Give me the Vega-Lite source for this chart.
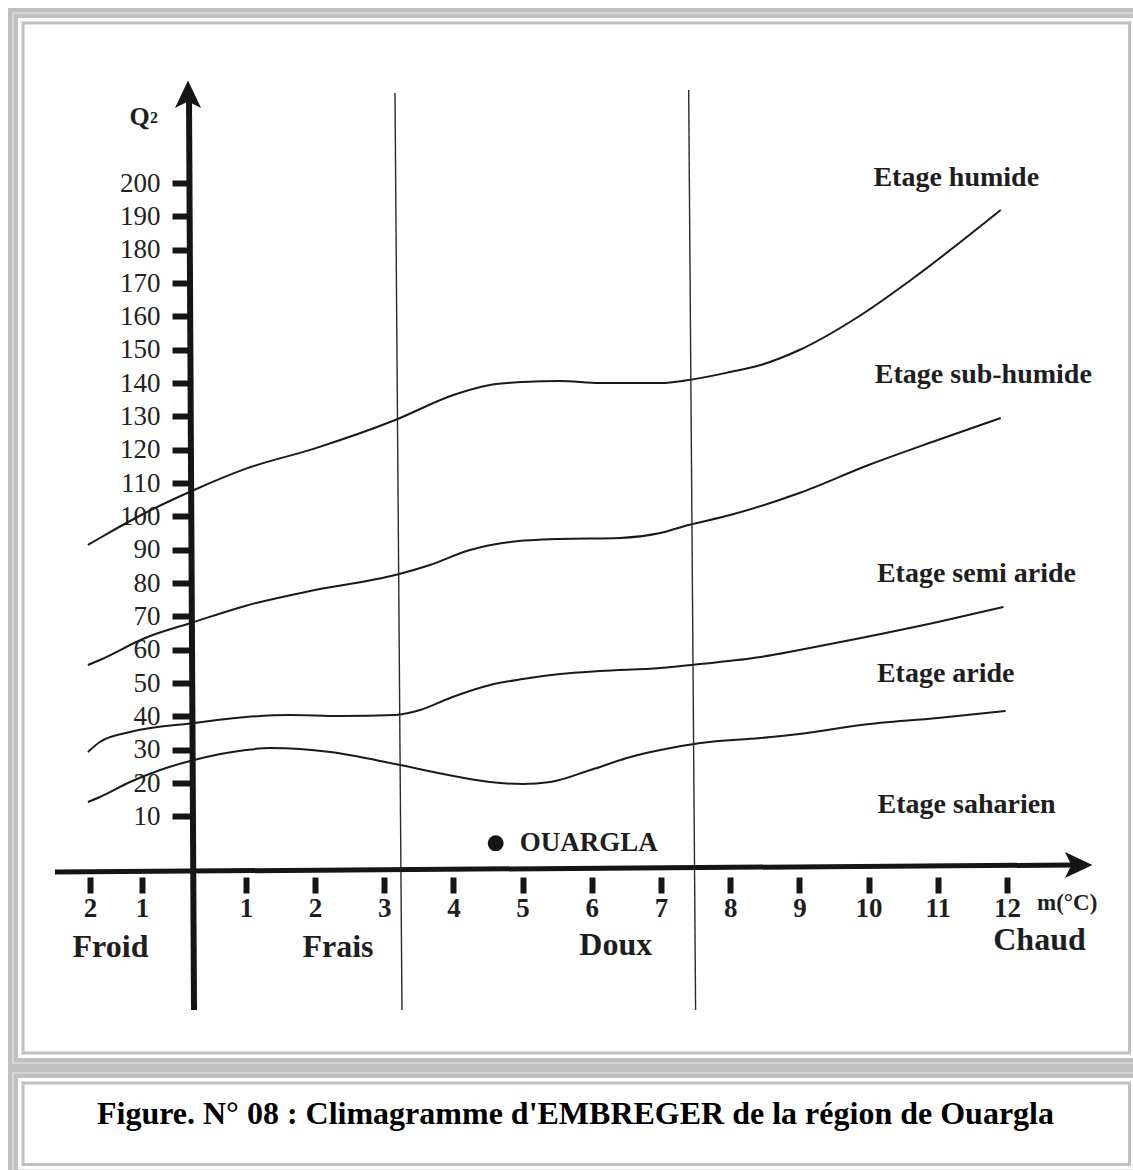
{
  "$schema": "https://vega.github.io/schema/vega-lite/v6.json",
  "width": 1133,
  "height": 1170,
  "autosize": {"type": "none"},
  "padding": 0,
  "background": "#ffffff",
  "config": {"view": {"stroke": null}, "font": "Liberation Serif"},
  "datasets": {
    "one": [{"k": 1}],
    "curves": [
      {"limite": "humide / sub-humide", "m": -2.04, "q": 91.4},
      {"limite": "humide / sub-humide", "m": -1.81, "q": 93.5},
      {"limite": "humide / sub-humide", "m": -0.94, "q": 101.0},
      {"limite": "humide / sub-humide", "m": 0.0, "q": 107.9},
      {"limite": "humide / sub-humide", "m": 1.0, "q": 114.3},
      {"limite": "humide / sub-humide", "m": 2.0, "q": 120.4},
      {"limite": "humide / sub-humide", "m": 3.16, "q": 128.9},
      {"limite": "humide / sub-humide", "m": 4.0, "q": 136.4},
      {"limite": "humide / sub-humide", "m": 4.53, "q": 139.4},
      {"limite": "humide / sub-humide", "m": 5.0, "q": 140.3},
      {"limite": "humide / sub-humide", "m": 5.54, "q": 140.6},
      {"limite": "humide / sub-humide", "m": 6.12, "q": 140.0},
      {"limite": "humide / sub-humide", "m": 6.99, "q": 140.0},
      {"limite": "humide / sub-humide", "m": 7.4, "q": 140.9},
      {"limite": "humide / sub-humide", "m": 8.0, "q": 143.3},
      {"limite": "humide / sub-humide", "m": 8.44, "q": 145.4},
      {"limite": "humide / sub-humide", "m": 9.0, "q": 149.9},
      {"limite": "humide / sub-humide", "m": 9.89, "q": 160.4},
      {"limite": "humide / sub-humide", "m": 10.61, "q": 170.9},
      {"limite": "humide / sub-humide", "m": 11.91, "q": 191.9},
      {"limite": "sub-humide / semi aride", "m": -2.04, "q": 55.4},
      {"limite": "sub-humide / semi aride", "m": -1.81, "q": 56.9},
      {"limite": "sub-humide / semi aride", "m": -0.94, "q": 63.5},
      {"limite": "sub-humide / semi aride", "m": 0.0, "q": 68.3},
      {"limite": "sub-humide / semi aride", "m": 1.0, "q": 73.2},
      {"limite": "sub-humide / semi aride", "m": 2.0, "q": 77.9},
      {"limite": "sub-humide / semi aride", "m": 3.16, "q": 82.4},
      {"limite": "sub-humide / semi aride", "m": 3.66, "q": 85.4},
      {"limite": "sub-humide / semi aride", "m": 4.24, "q": 89.9},
      {"limite": "sub-humide / semi aride", "m": 4.82, "q": 92.3},
      {"limite": "sub-humide / semi aride", "m": 5.54, "q": 93.2},
      {"limite": "sub-humide / semi aride", "m": 6.41, "q": 93.5},
      {"limite": "sub-humide / semi aride", "m": 6.99, "q": 95.0},
      {"limite": "sub-humide / semi aride", "m": 7.4, "q": 97.4},
      {"limite": "sub-humide / semi aride", "m": 8.0, "q": 100.4},
      {"limite": "sub-humide / semi aride", "m": 9.0, "q": 107.0},
      {"limite": "sub-humide / semi aride", "m": 10.0, "q": 115.4},
      {"limite": "sub-humide / semi aride", "m": 11.0, "q": 122.9},
      {"limite": "sub-humide / semi aride", "m": 11.91, "q": 129.5},
      {"limite": "semi aride / aride", "m": -2.04, "q": 29.3},
      {"limite": "semi aride / aride", "m": -1.81, "q": 32.3},
      {"limite": "semi aride / aride", "m": -1.23, "q": 35.3},
      {"limite": "semi aride / aride", "m": 0.0, "q": 38.0},
      {"limite": "semi aride / aride", "m": 1.0, "q": 39.8},
      {"limite": "semi aride / aride", "m": 1.64, "q": 40.4},
      {"limite": "semi aride / aride", "m": 2.36, "q": 40.1},
      {"limite": "semi aride / aride", "m": 3.16, "q": 40.4},
      {"limite": "semi aride / aride", "m": 3.52, "q": 41.9},
      {"limite": "semi aride / aride", "m": 3.95, "q": 45.5},
      {"limite": "semi aride / aride", "m": 4.53, "q": 49.4},
      {"limite": "semi aride / aride", "m": 5.0, "q": 51.2},
      {"limite": "semi aride / aride", "m": 5.54, "q": 52.7},
      {"limite": "semi aride / aride", "m": 6.12, "q": 53.6},
      {"limite": "semi aride / aride", "m": 6.99, "q": 54.5},
      {"limite": "semi aride / aride", "m": 7.57, "q": 55.7},
      {"limite": "semi aride / aride", "m": 8.44, "q": 57.8},
      {"limite": "semi aride / aride", "m": 9.0, "q": 59.9},
      {"limite": "semi aride / aride", "m": 9.89, "q": 63.5},
      {"limite": "semi aride / aride", "m": 11.0, "q": 68.3},
      {"limite": "semi aride / aride", "m": 11.95, "q": 72.8},
      {"limite": "aride / saharien", "m": -2.04, "q": 14.3},
      {"limite": "aride / saharien", "m": -1.81, "q": 15.8},
      {"limite": "aride / saharien", "m": -1.23, "q": 20.3},
      {"limite": "aride / saharien", "m": -0.65, "q": 23.9},
      {"limite": "aride / saharien", "m": 0.0, "q": 26.9},
      {"limite": "aride / saharien", "m": 1.0, "q": 29.9},
      {"limite": "aride / saharien", "m": 1.35, "q": 30.5},
      {"limite": "aride / saharien", "m": 1.78, "q": 30.2},
      {"limite": "aride / saharien", "m": 2.22, "q": 29.3},
      {"limite": "aride / saharien", "m": 3.16, "q": 25.7},
      {"limite": "aride / saharien", "m": 4.0, "q": 22.1},
      {"limite": "aride / saharien", "m": 4.53, "q": 20.3},
      {"limite": "aride / saharien", "m": 5.0, "q": 19.7},
      {"limite": "aride / saharien", "m": 5.4, "q": 20.3},
      {"limite": "aride / saharien", "m": 5.98, "q": 23.9},
      {"limite": "aride / saharien", "m": 6.56, "q": 27.8},
      {"limite": "aride / saharien", "m": 6.99, "q": 29.9},
      {"limite": "aride / saharien", "m": 7.57, "q": 32.0},
      {"limite": "aride / saharien", "m": 8.44, "q": 33.5},
      {"limite": "aride / saharien", "m": 9.0, "q": 34.7},
      {"limite": "aride / saharien", "m": 9.89, "q": 37.4},
      {"limite": "aride / saharien", "m": 11.0, "q": 39.5},
      {"limite": "aride / saharien", "m": 11.98, "q": 41.6}
    ],
    "dividers": [
      {"m_top": 3.156, "m_bottom": 3.257, "q_top": 227.0, "q_bottom": -48.1},
      {"m_top": 7.4, "m_bottom": 7.5, "q_top": 227.9, "q_bottom": -48.1}
    ],
    "etages": [
      {"etage": "Etage humide", "m": 10.07, "q": 199.1},
      {"etage": "Etage sub-humide", "m": 10.09, "q": 140.0},
      {"etage": "Etage semi aride", "m": 10.12, "q": 80.3},
      {"etage": "Etage aride", "m": 10.12, "q": 50.3},
      {"etage": "Etage saharien", "m": 10.13, "q": 11.0}
    ],
    "zones": [
      {"zone": "Froid", "m": -1.606, "q": -32.1},
      {"zone": "Frais", "m": 2.332, "q": -32.1},
      {"zone": "Doux", "m": 6.347, "q": -31.6},
      {"zone": "Chaud", "m": 12.47, "q": -30.1}
    ],
    "station": [{"station": "OUARGLA", "m": 4.611, "q": 1.9}],
    "caption": [{"caption": "Figure. N° 08 : Climagramme d'EMBREGER de la région de Ouargla"}]
  },
  "layer": [
    {
      "data": {"name": "curves"},
      "mark": {"type": "line", "interpolate": "monotone", "color": "#1a1a1a", "strokeWidth": 2},
      "encoding": {
        "x": {
          "field": "m", "type": "quantitative",
          "scale": {"domain": [-3.731, 1, 2, 13.821], "range": [0, 246, 315, 1133], "nice": false, "zero": false},
          "axis": {
            "orient": "bottom", "offset": -293, "values": [-2, -1, 1, 2, 3, 4, 5, 6, 7, 8, 9, 10, 11, 12],
            "labelExpr": "'' + abs(datum.value)", "domain": false, "grid": false,
            "tickSize": 16, "tickWidth": 6, "tickColor": "#151515",
            "labelFont": "Liberation Serif", "labelFontSize": 27, "labelFontWeight": "bold", "labelColor": "#1e1e1e",
            "labelPadding": 2, "labelOverlap": false, "labelFlush": false, "title": null
          }
        },
        "y": {
          "field": "q", "type": "quantitative",
          "scale": {"domain": [-96.1, 254.9], "nice": false, "zero": false},
          "axis": {
            "orient": "left", "offset": -190, "values": [10, 20, 30, 40, 50, 60, 70, 80, 90, 100, 110, 120, 130, 140, 150, 160, 170, 180, 190, 200],
            "domain": false, "grid": false, "tickSize": 18, "tickWidth": 6, "tickColor": "#151515",
            "labelFont": "Liberation Serif", "labelFontSize": 27, "labelFontWeight": "normal", "labelColor": "#222222",
            "labelPadding": 12, "labelOverlap": false, "labelFlush": false, "title": null, "format": "d"
          }
        },
        "detail": {"field": "limite", "type": "nominal"}
      }
    },
    {
      "data": {"name": "one"},
      "mark": {"type": "rect", "filled": false, "color": "#c0c0c0", "strokeWidth": 10},
      "encoding": {
        "x": {"datum": -3.481, "type": "quantitative"},
        "x2": {"datum": 13.915},
        "y": {"datum": 251, "type": "quantitative"},
        "y2": {"datum": -64}
      }
    },
    {
      "data": {"name": "one"},
      "mark": {"type": "rect", "filled": false, "color": "#e6e6e6", "strokeWidth": 1.2},
      "encoding": {
        "x": {"datum": -3.481, "type": "quantitative"},
        "x2": {"datum": 13.915},
        "y": {"datum": 251, "type": "quantitative"},
        "y2": {"datum": -64}
      }
    },
    {
      "data": {"name": "one"},
      "mark": {"type": "rect", "filled": false, "color": "#c0c0c0", "strokeWidth": 3},
      "encoding": {
        "x": {"datum": -3.288, "type": "quantitative"},
        "x2": {"datum": 13.77},
        "y": {"datum": 248, "type": "quantitative"},
        "y2": {"datum": -61}
      }
    },
    {
      "data": {"name": "one"},
      "mark": {"type": "rect", "filled": false, "color": "#c0c0c0", "strokeWidth": 10},
      "encoding": {
        "x": {"datum": -3.481, "type": "quantitative"},
        "x2": {"datum": 13.915},
        "y": {"datum": -67, "type": "quantitative"},
        "y2": {"datum": -97.45}
      }
    },
    {
      "data": {"name": "one"},
      "mark": {"type": "rect", "filled": false, "color": "#e6e6e6", "strokeWidth": 1.2},
      "encoding": {
        "x": {"datum": -3.481, "type": "quantitative"},
        "x2": {"datum": 13.915},
        "y": {"datum": -67, "type": "quantitative"},
        "y2": {"datum": -97.45}
      }
    },
    {
      "data": {"name": "one"},
      "mark": {"type": "rect", "filled": false, "color": "#c0c0c0", "strokeWidth": 3},
      "encoding": {
        "x": {"datum": -3.288, "type": "quantitative"},
        "x2": {"datum": 13.77},
        "y": {"datum": -70, "type": "quantitative"},
        "y2": {"datum": -94.45}
      }
    },
    {
      "data": {"name": "dividers"},
      "mark": {"type": "rule", "color": "#2a2a2a", "strokeWidth": 1.4},
      "encoding": {
        "x": {"field": "m_top", "type": "quantitative"},
        "x2": {"field": "m_bottom"},
        "y": {"field": "q_top", "type": "quantitative"},
        "y2": {"field": "q_bottom"}
      }
    },
    {
      "data": {"name": "one"},
      "mark": {"type": "rule", "color": "#151515", "strokeWidth": 6},
      "encoding": {
        "x": {"datum": -0.096, "type": "quantitative"},
        "x2": {"datum": 0.0},
        "y": {"datum": 224.9, "type": "quantitative"},
        "y2": {"datum": -48.1}
      }
    },
    {
      "data": {"name": "one"},
      "mark": {"type": "rule", "color": "#151515", "strokeWidth": 5},
      "encoding": {
        "x": {"datum": -2.673, "type": "quantitative"},
        "x2": {"datum": 12.94},
        "y": {"datum": -6.7, "type": "quantitative"},
        "y2": {"datum": -4.6}
      }
    },
    {
      "data": {"name": "one"},
      "mark": {"type": "point", "shape": "M0,-1L0.9,0.9L0,0.45L-0.9,0.9Z", "filled": true, "color": "#151515", "size": 841, "opacity": 1},
      "encoding": {
        "x": {"datum": -0.115, "type": "quantitative"},
        "y": {"datum": 226.4, "type": "quantitative"}
      }
    },
    {
      "data": {"name": "one"},
      "mark": {"type": "point", "shape": "M1,0L-0.9,0.9L-0.45,0L-0.9,-0.9Z", "filled": true, "color": "#151515", "size": 841, "opacity": 1},
      "encoding": {
        "x": {"datum": 13.026, "type": "quantitative"},
        "y": {"datum": -4.6, "type": "quantitative"}
      }
    },
    {
      "data": {"name": "etages"},
      "mark": {"type": "text", "align": "left", "baseline": "alphabetic", "font": "Liberation Serif", "fontSize": 28, "fontWeight": "bold", "color": "#1e1e1e"},
      "encoding": {
        "x": {"field": "m", "type": "quantitative"},
        "y": {"field": "q", "type": "quantitative"},
        "text": {"field": "etage"}
      }
    },
    {
      "data": {"name": "zones"},
      "mark": {"type": "text", "align": "center", "baseline": "alphabetic", "font": "Liberation Serif", "fontSize": 32, "fontWeight": "bold", "color": "#1e1e1e"},
      "encoding": {
        "x": {"field": "m", "type": "quantitative"},
        "y": {"field": "q", "type": "quantitative"},
        "text": {"field": "zone"}
      }
    },
    {
      "data": {"name": "one"},
      "mark": {"type": "text", "align": "left", "baseline": "alphabetic", "font": "Liberation Serif", "fontSize": 23, "fontWeight": "bold", "color": "#1e1e1e", "text": "m(°C)"},
      "encoding": {
        "x": {"datum": 12.434, "type": "quantitative"},
        "y": {"datum": -18, "type": "quantitative"}
      }
    },
    {
      "data": {"name": "one"},
      "mark": {"type": "text", "align": "center", "baseline": "alphabetic", "font": "Liberation Serif", "fontSize": 26, "fontWeight": "bold", "color": "#1e1e1e", "text": "Q"},
      "encoding": {
        "x": {"datum": -1.048, "type": "quantitative"},
        "y": {"datum": 217.4, "type": "quantitative"}
      }
    },
    {
      "data": {"name": "one"},
      "mark": {"type": "text", "align": "left", "baseline": "alphabetic", "font": "Liberation Serif", "fontSize": 16, "fontWeight": "bold", "color": "#1e1e1e", "text": "2"},
      "encoding": {
        "x": {"datum": -0.846, "type": "quantitative"},
        "y": {"datum": 217.9, "type": "quantitative"}
      }
    },
    {
      "data": {"name": "station"},
      "mark": {"type": "point", "shape": "circle", "filled": true, "color": "#151515", "size": 254, "opacity": 1},
      "encoding": {
        "x": {"field": "m", "type": "quantitative"},
        "y": {"field": "q", "type": "quantitative"}
      }
    },
    {
      "data": {"name": "station"},
      "mark": {"type": "text", "align": "left", "baseline": "middle", "dx": 24, "font": "Liberation Serif", "fontSize": 27, "fontWeight": "bold", "color": "#1e1e1e"},
      "encoding": {
        "x": {"field": "m", "type": "quantitative"},
        "y": {"field": "q", "type": "quantitative"},
        "text": {"field": "station"}
      }
    },
    {
      "data": {"name": "caption"},
      "mark": {"type": "text", "align": "center", "baseline": "alphabetic", "font": "Liberation Serif", "fontSize": 32, "fontWeight": "bold", "color": "#000000"},
      "encoding": {
        "x": {"datum": 5.764, "type": "quantitative"},
        "y": {"datum": -82.3, "type": "quantitative"},
        "text": {"field": "caption"}
      }
    }
  ]
}
